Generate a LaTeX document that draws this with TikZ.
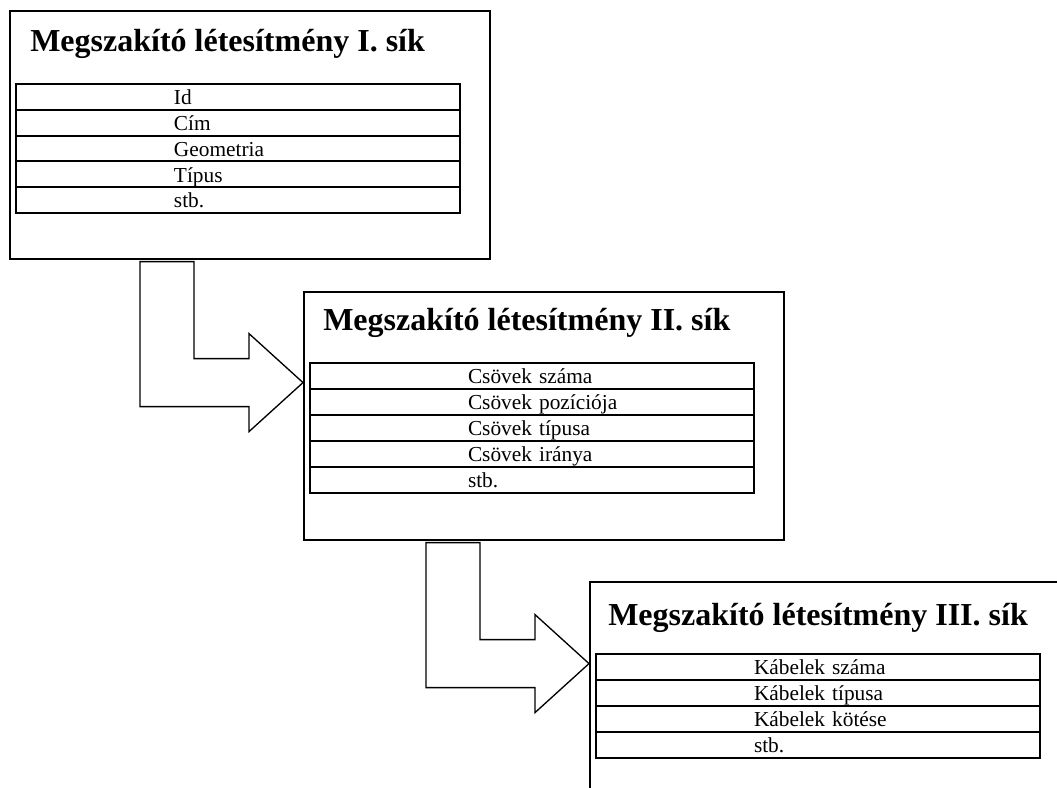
\documentclass[tikz,border=0pt]{standalone}
\usepackage{fontspec}
\setmainfont{Liberation Serif}
\usepackage{tikz}
\usetikzlibrary{positioning,calc}

\tikzset{
    sikbox/.style={draw, line width=1.2pt, anchor=north west, minimum width=360pt, minimum height=186pt, inner sep=0pt},
    siktitle/.style={anchor=base west, inner sep=0pt, font=\fontsize{24}{28}\selectfont\bfseries},
    sor/.style={draw, line width=1.5pt, anchor=north west, inner sep=0pt, text width=333pt, align=left,
        text height=15.6pt, text depth=3.75pt, font=\fontsize{16}{19}\selectfont},
    knee/.style={draw, line width=1pt, fill=white}
}

\begin{document}
\begin{tikzpicture}[x=0.75pt,y=-0.75pt]
    \useasboundingbox (0,0) rectangle (1057,788);
    \clip (0,0) rectangle (1057,788);

    % I. sik
    \node[sikbox] (sik1) at (9,10) {};
    \node[siktitle] (cim1) at ($(sik1.north west)+(21,42)$) {Megszakító létesítmény I. sík};
    \foreach \t [count=\i from 0] in {Id,Cím,Geometria,Típus,stb.}
        \node[sor] (sor1-\i) at ($(sik1.north west)+(6,73)+(0,\i*25.8)$) {\hspace*{118.5pt}\t};

    % II. sik
    \node[sikbox] (sik2) at ($(sik1.north west)+(294,281)$) {};
    \node[siktitle] (cim2) at ($(sik2.north west)+(20,39)$) {Megszakító létesítmény II. sík};
    \foreach \t [count=\i from 0] in {Csövek száma,Csövek pozíciója,Csövek típusa,Csövek iránya,stb.}
        \node[sor] (sor2-\i) at ($(sik2.north west)+(6,71)+(0,\i*26)$) {\hspace*{118.5pt}\t};

    % III. sik
    \node[sikbox] (sik3) at ($(sik2.north west)+(286,290)$) {};
    \node[siktitle] (cim3) at ($(sik3.north west)+(19,44)$) {Megszakító létesítmény III. sík};
    \foreach \t [count=\i from 0] in {Kábelek száma,Kábelek típusa,Kábelek kötése,stb.}
        \node[sor] (sor3-\i) at ($(sik3.north west)+(6,72)+(0,\i*26)$) {\hspace*{118.5pt}\t};

    % bent arrows
    \coordinate (k1) at ($(sik1.south west)+(131,2)$);
    \coordinate (k2) at ($(sik2.south west)+(123,2)$);
    \foreach \k in {k1,k2}
        \draw[knee] (\k) -- ++(54,0) -- ++(0,97) -- ++(55,0) -- ++(0,-25)
            -- ++(54,49) -- ++(-54,49) -- ++(0,-25) -- ++(-109,0) -- cycle;
\end{tikzpicture}
\end{document}
